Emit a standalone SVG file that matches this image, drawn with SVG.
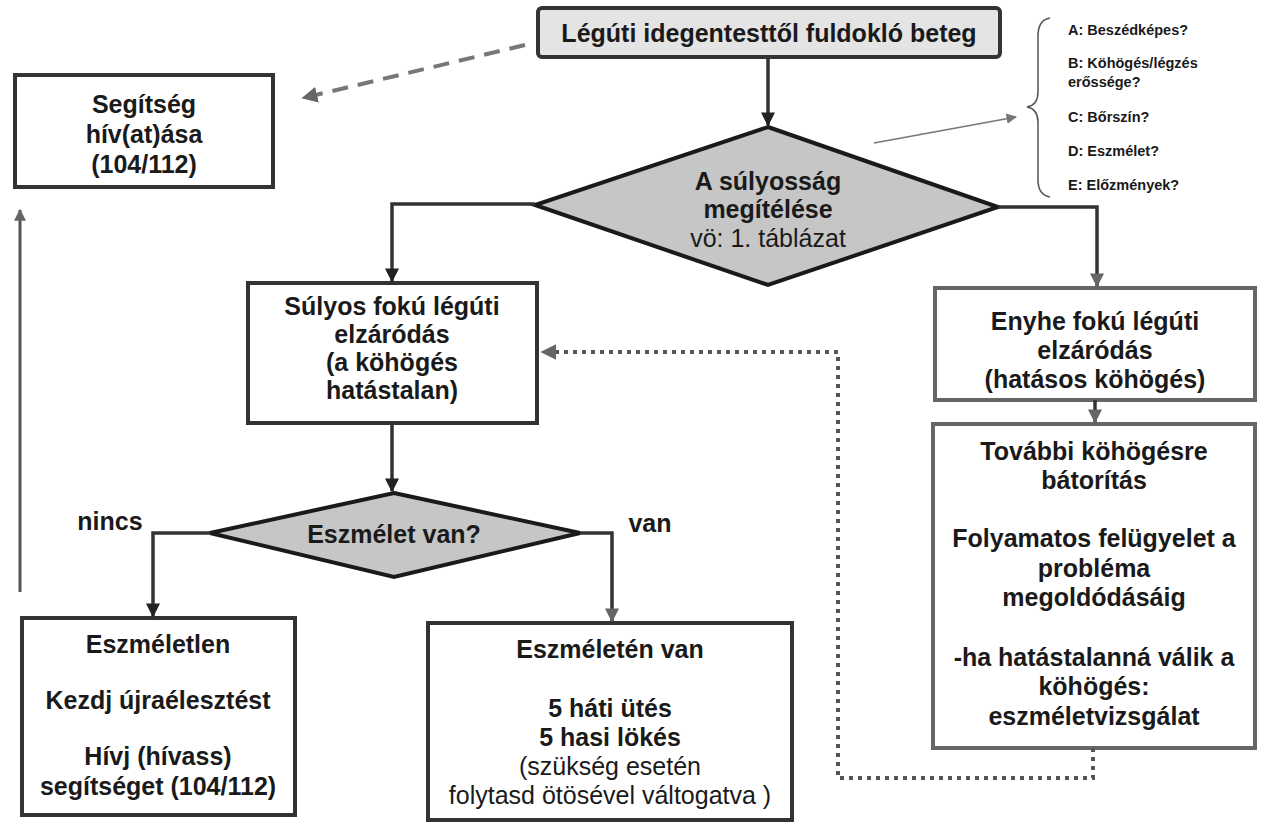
<svg xmlns="http://www.w3.org/2000/svg" width="1262" height="827" viewBox="0 0 1262 827">
<style>
.t{font-family:"Liberation Sans",Arial,sans-serif;font-weight:bold;font-size:25px;fill:#1a1a1a;text-anchor:middle}
.r{font-weight:normal}
.s{font-family:"Liberation Sans",Arial,sans-serif;font-weight:bold;font-size:14.5px;fill:#1a1a1a}
.box{fill:#fff;stroke:#333;stroke-width:4}
.lbox{fill:#fff;stroke:#666;stroke-width:4}
.dia{fill:#c6c6c6;stroke:#1a1a1a;stroke-width:4}
.c{fill:none;stroke:#333;stroke-width:3.5}
</style>
<defs>
<marker id="ah" viewBox="0 0 10 10" refX="9" refY="5" markerWidth="4" markerHeight="4" orient="auto" markerUnits="strokeWidth"><path d="M0,0 L10,5 L0,10 z" fill="#222"/></marker>
<marker id="ahg" viewBox="0 0 10 10" refX="9" refY="5" markerWidth="4" markerHeight="4" orient="auto" markerUnits="strokeWidth"><path d="M0,0 L10,5 L0,10 z" fill="#666"/></marker>
<marker id="aht" viewBox="0 0 10 10" refX="9" refY="5" markerWidth="7" markerHeight="7" orient="auto" markerUnits="strokeWidth"><path d="M0,0 L10,5 L0,10 z" fill="#777"/></marker>
</defs>

<g id="start">
<rect x="538" y="8" width="462" height="49" rx="4" fill="#e4e4e4" stroke="#333" stroke-width="4"/>
<text class="t" x="769" y="42" font-size="27.5">Légúti idegentesttől fuldokló beteg</text>
</g>

<g id="help">
<rect class="box" x="15" y="75" width="258" height="112" stroke="#111"/>
<text class="t" x="144" y="113" font-size="26">Segítség</text>
<text class="t" x="144" y="143" font-size="26">hív(at)ása</text>
<text class="t" x="144" y="173" font-size="26">(104/112)</text>
</g>

<g id="severity">
<polygon class="dia" points="768,127 998,207 768,285 535,205"/>
<text class="t" x="768" y="190">A súlyosság</text>
<text class="t" x="768" y="218">megítélése</text>
<text class="t r" x="768" y="247">vö: 1. táblázat</text>
</g>

<g id="criteria">
<path d="M1050,18 Q1038,20 1038,36 L1038,92 Q1038,105 1027,107 Q1038,109 1038,122 L1038,180 Q1038,195 1050,197" fill="none" stroke="#555" stroke-width="1.5"/>
<text class="s" x="1068" y="35">A: Beszédképes?</text>
<text class="s" x="1068" y="68">B: Köhögés/légzés</text>
<text class="s" x="1068" y="87">erőssége?</text>
<text class="s" x="1068" y="122">C: Bőrszín?</text>
<text class="s" x="1068" y="156">D: Eszmélet?</text>
<text class="s" x="1068" y="190">E: Előzmények?</text>
</g>

<g id="severe">
<rect class="box" x="248" y="283" width="289" height="140"/>
<text class="t" x="392" y="315">Súlyos fokú légúti</text>
<text class="t" x="392" y="343">elzáródás</text>
<text class="t" x="392" y="371">(a köhögés</text>
<text class="t" x="392" y="399">hatástalan)</text>
</g>

<g id="mild">
<rect class="lbox" x="935" y="288" width="320" height="112"/>
<text class="t" x="1095" y="330">Enyhe fokú légúti</text>
<text class="t" x="1095" y="359">elzáródás</text>
<text class="t" x="1095" y="388">(hatásos köhögés)</text>
</g>

<g id="encourage">
<rect class="lbox" x="933" y="424" width="322" height="324"/>
<text class="t" x="1094" y="460">További köhögésre</text>
<text class="t" x="1094" y="489">bátorítás</text>
<text class="t" x="1094" y="547">Folyamatos felügyelet a</text>
<text class="t" x="1094" y="577">probléma</text>
<text class="t" x="1094" y="606">megoldódásáig</text>
<text class="t" x="1094" y="666">-ha hatástalanná válik a</text>
<text class="t" x="1094" y="695">köhögés:</text>
<text class="t" x="1094" y="725">eszméletvizsgálat</text>
</g>

<g id="conscious-q">
<polygon class="dia" points="394,493 580,533 394,577 210,533"/>
<text class="t" x="394" y="543" font-size="26">Eszmélet van?</text>
</g>

<g id="unconscious">
<rect class="box" x="22" y="618" width="273" height="197"/>
<text class="t" x="158" y="653">Eszméletlen</text>
<text class="t" x="158" y="709">Kezdj újraélesztést</text>
<text class="t" x="158" y="765">Hívj (hívass)</text>
<text class="t" x="158" y="795">segítséget (104/112)</text>
</g>

<g id="conscious">
<rect class="box" x="428" y="623" width="364" height="197"/>
<text class="t" x="610" y="658">Eszméletén van</text>
<text class="t" x="610" y="717">5 háti ütés</text>
<text class="t" x="610" y="746">5 hasi lökés</text>
<text class="t r" x="610" y="775">(szükség esetén</text>
<text class="t r" x="610" y="804">folytasd ötösével váltogatva )</text>
</g>

<g id="connectors">
<line class="c" x1="768" y1="57" x2="768" y2="125" stroke="#111" marker-end="url(#ah)"/>
<line x1="525" y1="45" x2="303" y2="98" stroke="#777" stroke-width="4" stroke-dasharray="16,10" marker-end="url(#ahg)"/>
<line x1="874" y1="143" x2="1016" y2="117" stroke="#777" stroke-width="1.5" marker-end="url(#aht)"/>
<polyline class="c" points="535,204 392,204 392,281" marker-end="url(#ah)"/>
<polyline class="c" points="998,207 1097,207 1097,286" stroke="#666" marker-end="url(#ahg)"/>
<line class="c" x1="1095" y1="400" x2="1095" y2="422" stroke="#777" marker-end="url(#ahg)"/>
<line class="c" x1="392" y1="423" x2="392" y2="491" marker-end="url(#ah)"/>
<polyline class="c" points="210,533 153,533 153,616" marker-end="url(#ah)"/>
<polyline class="c" points="580,533 612,533 612,621" stroke="#555" marker-end="url(#ahg)"/>
<line x1="20" y1="592" x2="20" y2="210" stroke="#555" stroke-width="3" marker-end="url(#ahg)"/>
<polyline points="1093,748 1093,778 838,778 838,352 542,352" fill="none" stroke="#555" stroke-width="4" stroke-dasharray="4,5" marker-end="url(#ahg)"/>
<text class="t" x="110" y="530" fill="#444">nincs</text>
<text class="t" x="650" y="532" fill="#444">van</text>
</g>
</svg>
